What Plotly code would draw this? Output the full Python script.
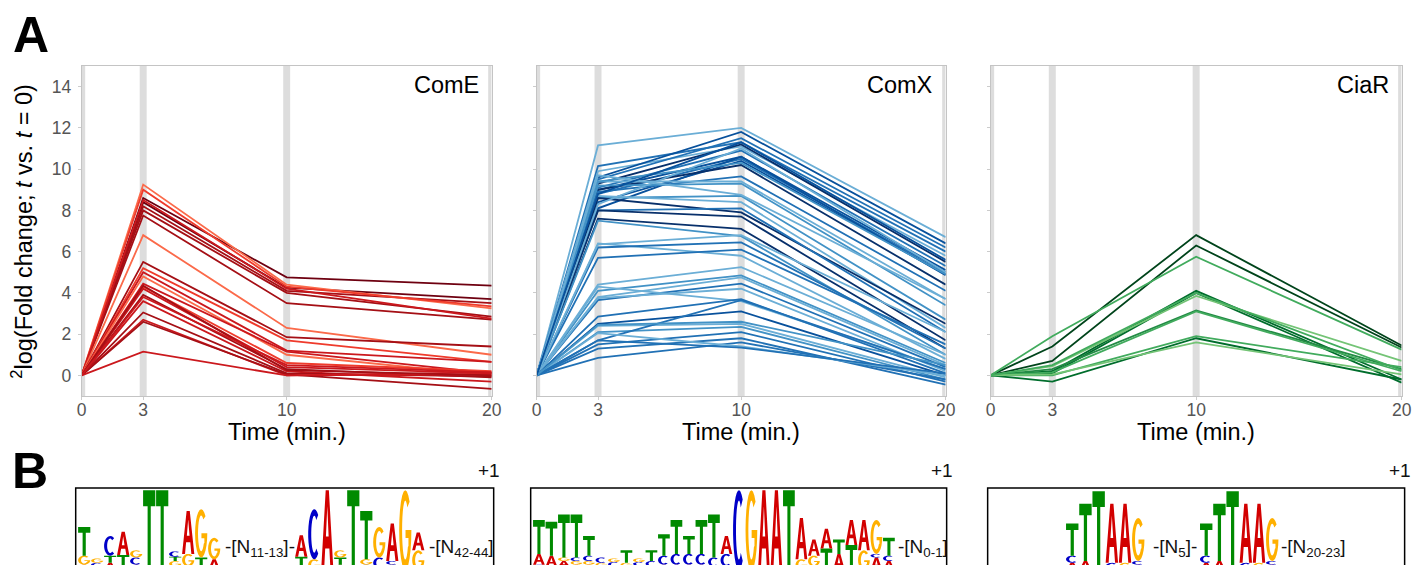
import numpy as np
import plotly.graph_objects as go

W, H = 1422, 565
FONT = "Liberation Sans, Arial, sans-serif"

# ---------------- data: panel A ----------------
times = [0, 3, 10, 20]
time_ticks = [0, 3, 10, 20]
y_ticks = [0, 2, 4, 6, 8, 10, 12, 14]
panel_names = ["ComE", "ComX", "CiaR"]

# each row: log2 fold change at t = 0, 3, 10, 20 min
come_lines = [
    [0, 8.6, 4.75, 4.35], [0, 8.4, 4.25, 3.7], [0, 8.2, 4.1, 3.5], [0, 9.25, 4.4, 3.25],
    [0, 9.0, 4.3, 3.35], [0, 8.0, 4.0, 2.85], [0, 7.75, 3.5, 2.7], [0, 8.5, 4.2, 2.75],
    [0, 6.8, 2.3, 1.0], [0, 5.5, 1.85, 1.4], [0, 5.2, 1.7, 0.65], [0, 5.0, 1.2, 0.65],
    [0, 4.8, 1.0, 0.0], [0, 4.45, 1.15, 0.1], [0, 4.3, 0.6, 0.2], [0, 4.2, 0.4, 0.1],
    [0, 3.9, 0.3, -0.1], [0, 3.6, 0.2, -0.3], [0, 3.05, 0.1, -0.05], [0, 2.7, 0.0, 0.05],
    [0, 2.6, 0.05, -0.65], [0, 1.15, 0.0, 0.15], [0, 4.35, 0.25, 0.0], [0, 3.8, 0.5, 0.15],
]
come_shade = [4, 4, 3, 0, 1, 3, 3, 2, 0, 3, 1, 2, 0, 2, 1, 2, 3, 2, 3, 2, 3, 2, 3, 2]

comx_lines = [
    [0, 11.15, 12.0, 6.7], [0, 10.15, 11.3, 6.0], [0, 9.9, 11.1, 5.8], [0, 9.6, 11.8, 6.4],
    [0, 9.5, 11.5, 6.2], [0, 9.3, 11.2, 5.5], [0, 9.1, 10.9, 5.3], [0, 9.0, 10.6, 5.1],
    [0, 8.8, 10.5, 5.0], [0, 8.4, 10.4, 4.9], [0, 8.1, 10.6, 4.85], [0, 9.0, 10.2, 4.4],
    [0, 8.9, 9.65, 4.1], [0, 9.4, 9.4, 3.7], [0, 9.2, 9.3, 3.4], [0, 8.6, 8.7, 2.7],
    [0, 8.7, 8.4, 2.3], [0, 8.6, 7.9, 2.5], [0, 8.0, 8.1, 2.1], [0, 8.0, 7.7, 1.7],
    [0, 7.6, 7.1, 1.3], [0, 7.5, 6.75, 1.0], [0, 6.4, 5.8, 0.8], [0, 6.2, 6.45, 1.3],
    [0, 5.7, 6.1, 1.5], [0, 6.35, 6.8, 2.1], [0, 4.4, 5.25, 1.0], [0, 4.1, 4.85, 0.6],
    [0, 3.8, 4.75, 0.5], [0, 3.65, 4.45, 0.4], [0, 3.75, 4.2, 0.2], [0, 4.3, 3.6, 0.3],
    [0, 2.85, 3.7, 0.1], [0, 2.5, 3.1, 0.0], [0, 2.4, 2.5, -0.1], [0, 2.1, 2.35, -0.2],
    [0, 1.7, 3.65, 0.3], [0, 1.5, 2.1, -0.3], [0, 1.3, 1.8, -0.45], [0, 0.85, 1.6, -0.2],
    [0, 2.05, 1.4, 0.0], [0, 1.7, 1.35, 0.1], [0, 2.45, 2.6, 0.5], [0, 8.3, 11.0, 5.0],
    [0, 9.4, 10.3, 4.9], [0, 9.7, 8.75, 3.7], [0, 8.8, 11.3, 5.6],
]
comx_shade = [0, 2, 0, 3, 2, 4, 2, 3, 2, 3, 3, 4, 2, 0, 1, 1, 0, 4, 2, 4, 4, 1, 0, 2,
              2, 0, 0, 1, 0, 2, 0, 0, 2, 3, 0, 1, 2, 2, 2, 2, 0, 2, 1, 0, 1, 0, 3]

ciar_lines = [
    [0, 1.4, 6.8, 1.45], [0, 0.7, 6.3, 1.35], [0, 1.9, 5.75, 1.25], [0, 0.2, 4.1, -0.2],
    [0, 0.1, 4.0, -0.35], [0, 0.45, 3.85, 0.7], [0, 0.3, 3.15, 0.3], [0, 0.15, 3.1, 0.2],
    [0, 0.0, 1.9, 0.4], [0, -0.3, 1.8, -0.2], [0, 0.05, 1.6, 0.05], [0, 0.5, 4.0, 0.25],
]
ciar_shade = [4, 4, 1, 3, 3, 0, 2, 1, 1, 3, 0, 1]

reds = ["#fb6a4a", "#ef3b2c", "#cb181d", "#a50f15", "#6e0010"]
blues = ["#6baed6", "#4292c6", "#2171b5", "#08519c", "#08306b"]
greens = ["#74c476", "#41ab5d", "#238b45", "#006d2c", "#00441b"]

# ---------------- data: panel B (sequence logos) ----------------
# each column: stacked letters bottom -> top with height in bits
logo1_seg1 = ["A.15 G.25 T.8", "A.1 C.1 G.12", "A.2 T.2 C.55", "G.12 T.3 A.65", "A.15 C.2 G.2",
              "T2.23", "T2.23", "A.1 G.15 T.12 C.15", "T.1 G.35 A1.2", "A.1 T.25 G1.35", "A.3 G.6"]
logo1_seg2 = ["C.12 T.25 A.6", "G.3 C1.4", "A2.23", "A.15 T.2 G.2", "T2.23",
              "C.15 G.15 T1.35", "A.05 C.3 G.85", "G.15 C.1 A1.05", "G2.23", "G.55 A.5"]
logo2_seg1 = ["G.05 C.1 A.3 T.95", "C.1 A.3 T.95", "C.1 A.15 G.1 T1.2", "A.15 G.1 C.1 T1.2",
              "A.15 G.1 C.15 T.55", "A.1 G.1 C.15", "A.1 C.12 G.1", "A.1 G.1 T.35", "A.12 C.1 G.1",
              "A.1 C.15 T.3", "A.15 C.25 T.6", "A.15 C.3 T.95", "A.15 C.3 T.5", "A.15 C.3 T.95",
              "A.1 C.25 T1.2", "G.1 C.35 A.5", "C2.23", "G2.23", "A2.23", "A2.23", "T2.23",
              "G.3 A1.15", "T.1 G.3 A.45", "T.6 A.55", "A.45 T.4", "T.7 A.7", "G.55 A.85",
              "A.35 C.1 G.95", "A.25 C.15 T.5"]
logo3_seg = ["A.2 C.2 T.9", "A.25 T1.6", "T2.2", "C.2 A1.65", "G.2 A1.65", "A.15 C.1 G1.2"]

# (motif columns, start position) and (spacer text, position) per logo
logos = [
    {"motifs": [(logo1_seg1, 0.0), (logo1_seg2, 16.7)],
     "texts": [("-[N<sub>11-13</sub>]-", 11.15), ("-[N<sub>42-44</sub>]", 26.9)]},
    {"motifs": [(logo2_seg1, 0.0)],
     "texts": [("-[N<sub>0-1</sub>]", 29.05)]},
    {"motifs": [(logo3_seg, 0.0), (logo3_seg, 10.15)],
     "texts": [("-[N<sub>5</sub>]-", 6.44), ("-[N<sub>20-23</sub>]", 16.2)]},
]

letter_colors = {"A": "#d20000", "C": "#0000c8", "G": "#ffb000", "T": "#008a00"}

# ---------------- layout geometry (target pixel positions) ----------------
# the capture maps page x to picture x as 0.9895*x + 5.3; compensate here
SX, OX = 0.9895, 5.3


def fx(px):
    return (px - OX) / SX / W


def fy(py):
    return 1 - py / H


panel_px = [(82, 492), (537, 946), (991, 1402)]
plot_top, plot_bottom = 66, 396
logo_box_px = [(76, 494), (531, 947), (988, 1405)]
logo_first_col = [78, 533, 1066]
logo_col_w = [13.0, 12.5, 13.2]
logo_top = 488
bits_per_px = 1 / 35.8
logo_yrange = [(570 - 565) * bits_per_px, (570 - logo_top) * bits_per_px]

ydom = [fy(plot_bottom), fy(plot_top)]

fig = go.Figure()
series = [(come_lines, come_shade, reds), (comx_lines, comx_shade, blues), (ciar_lines, ciar_shade, greens)]
shapes = []
annotations = []
layout_axes = {}

for i, (lines, shades, pal) in enumerate(series):
    n = i + 1
    xa, ya = ("x", "y") if n == 1 else (f"x{n}", f"y{n}")
    for row, s in zip(lines, shades):
        fig.add_trace(go.Scatter(x=times, y=row, mode="lines", line=dict(color=pal[s], width=1.8),
                                 xaxis=xa, yaxis=ya, showlegend=False, hoverinfo="skip"))
    x0p, x1p = panel_px[i]
    layout_axes[f"xaxis{n}"] = dict(
        domain=[fx(x0p), fx(x1p)], range=[0, 20], tickvals=time_ticks, ticks="outside", ticklen=3,
        tickcolor="#cccccc", showline=True, linecolor="#c4c4c4", linewidth=1, mirror=True,
        showgrid=False, zeroline=False, tickfont=dict(size=17.5, color="#555555", family=FONT),
        ticklabelstandoff=-5, anchor=ya, fixedrange=True)
    layout_axes[f"yaxis{n}"] = dict(
        domain=ydom, range=[-1, 15], tickvals=y_ticks, ticks="outside", ticklen=3,
        tickcolor="#cccccc", showline=True, linecolor="#c4c4c4", linewidth=1, mirror=True,
        showgrid=False, zeroline=False, showticklabels=(n == 1),
        tickfont=dict(size=17.5, color="#555555", family=FONT), ticklabelstandoff=3,
        anchor=xa, fixedrange=True)
    for t in times:
        shapes.append(dict(type="rect", xref=xa, yref=f"{ya} domain", x0=max(t - 0.17, 0), x1=min(t + 0.17, 20),
                           y0=0, y1=1, fillcolor="#dddddd", line=dict(width=0), layer="below"))
    annotations.append(dict(text=panel_names[i], xref="paper", yref="paper", x=fx(x1p - 11), y=fy(70),
                            xanchor="right", yanchor="top", showarrow=False,
                            font=dict(size=23.5, color="black", family=FONT)))
    annotations.append(dict(text="Time (min.)", xref="paper", yref="paper", x=fx((x0p + x1p) / 2),
                            y=fy(432), xanchor="center", yanchor="middle", showarrow=False,
                            font=dict(size=23.5, color="black", family=FONT)))

annotations.append(dict(text="<sup>2</sup>log(Fold change; <i>t</i> vs. <i>t</i> = 0)", xref="paper", yref="paper",
                        x=fx(22), y=fy(231), textangle=-90, xanchor="center", yanchor="middle",
                        showarrow=False, font=dict(size=23.5, color="black", family=FONT)))
annotations.append(dict(text="<b>A</b>", xref="paper", yref="paper", x=fx(31), y=fy(35),
                        xanchor="center", yanchor="middle", showarrow=False,
                        font=dict(size=50, color="black", family=FONT)))
annotations.append(dict(text="<b>B</b>", xref="paper", yref="paper", x=fx(30), y=fy(471),
                        xanchor="center", yanchor="middle", showarrow=False,
                        font=dict(size=50, color="black", family=FONT)))

# ---------------- glyphs ----------------
def arc(cx, cy, rx, ry, a0, a1, n=22):
    th = np.radians(np.linspace(a0, a1, n))
    return list(zip(cx + rx * np.cos(th), cy + ry * np.sin(th)))

GLYPHS = {
    "T": [[(0, 1), (1, 1), (1, 0.8), (0.63, 0.8), (0.63, 0), (0.37, 0), (0.37, 0.8), (0, 0.8)]],
    "A": [[(0, 0), (0.37, 1), (0.63, 1), (1, 0), (0.76, 0), (0.67, 0.27), (0.33, 0.27), (0.24, 0)],
          [(0.39, 0.42), (0.61, 0.42), (0.5, 0.8)]],
    "C": [arc(0.5, 0.5, 0.5, 0.5, 50, 310) + arc(0.5, 0.5, 0.25, 0.37, 310, 50)],
    "G": [arc(0.5, 0.5, 0.5, 0.5, 45, 360) + [(0.52, 0.5), (0.52, 0.4), (0.76, 0.4), (0.76, 0.3)]
          + arc(0.5, 0.5, 0.26, 0.37, 325, 50)],
}

def glyph_path(letter, x0, y0, w, h):
    parts = []
    for poly in GLYPHS[letter]:
        pts = [f"{x0 + u * w:.4f},{y0 + v * h:.4f}" for u, v in poly]
        parts.append("M" + " L".join(pts) + " Z")
    return " ".join(parts)

for k, logo in enumerate(logos):
    n = 4 + k
    bx0, bx1 = logo_box_px[k]
    c0, cw = logo_first_col[k], logo_col_w[k]
    layout_axes[f"xaxis{n}"] = dict(domain=[fx(bx0), fx(bx1)], range=[(bx0 - c0) / cw, (bx1 - c0) / cw],
                                    visible=False, anchor=f"y{n}", fixedrange=True)
    layout_axes[f"yaxis{n}"] = dict(domain=[0, fy(logo_top)], range=logo_yrange,
                                    visible=False, anchor=f"x{n}", fixedrange=True)
    for cols, start in logo["motifs"]:
        for j, col in enumerate(cols):
            base = 0.0
            for tok in col.split():
                letter, hgt = tok[0], float(tok[1:])
                shapes.append(dict(type="path", xref=f"x{n}", yref=f"y{n}",
                                   path=glyph_path(letter, start + j + 0.03, base, 0.94, hgt),
                                   fillcolor=letter_colors[letter], line=dict(width=0), layer="above"))
                base += hgt
    for txt, pos in logo["texts"]:
        annotations.append(dict(text=txt, xref=f"x{n}", yref=f"y{n}", x=pos, y=0.62, xanchor="left",
                                yanchor="middle", showarrow=False,
                                font=dict(size=19, color="#111111", family=FONT)))
    shapes.append(dict(type="rect", xref="paper", yref="paper", x0=fx(bx0), x1=fx(bx1), y0=-0.1,
                       y1=fy(logo_top), line=dict(color="black", width=1.5), fillcolor="rgba(0,0,0,0)"))
    annotations.append(dict(text="+1", xref="paper", yref="paper", x=fx(bx1 + 8), y=fy(470),
                            xanchor="right", yanchor="middle", showarrow=False,
                            font=dict(size=19, color="#111111", family=FONT)))

fig.update_layout(
    width=W, height=H, autosize=False, margin=dict(l=0, r=0, t=0, b=0, pad=0),
    paper_bgcolor="white", plot_bgcolor="white",
    showlegend=False, shapes=shapes, annotations=annotations, font=dict(family=FONT), **layout_axes)

post = ("document.documentElement.style.margin='0';document.documentElement.style.overflow='hidden';"
        "document.body.style.margin='0';document.body.style.overflow='hidden';"
        "var gd=document.getElementById('{plot_id}');gd.style.position='fixed';gd.style.left='0px';gd.style.top='0px';")
fig.write_html("out.html", config={"responsive": False, "displayModeBar": False}, post_script=post)
